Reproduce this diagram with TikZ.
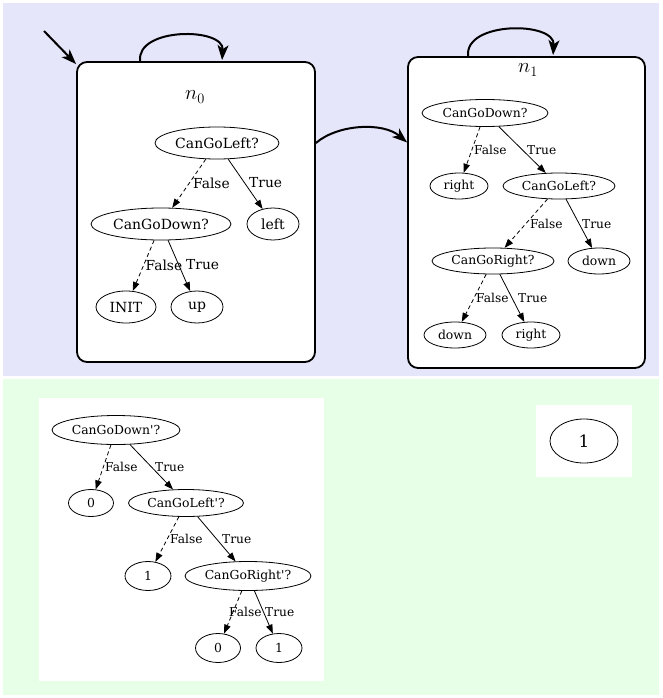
\documentclass[tikz,border=0pt]{standalone}
\usepackage{fontspec}
\setmainfont{DejaVu Serif}[Ligatures=TeXOff]
\usetikzlibrary{arrows.meta,shapes.geometric,calc}
\definecolor{topbg}{RGB}{230,230,250}
\definecolor{botbg}{RGB}{230,255,230}
\tikzset{
  dn/.style={ellipse,draw,line width=0.8pt,inner sep=0pt,fill=white},
  fA/.style={font=\fontsize{14}{16}\selectfont},
  fB/.style={font=\fontsize{12.4}{14}\selectfont},
  lblA/.style={anchor=west,inner sep=0pt,font=\fontsize{13.8}{15}\selectfont},
  lblB/.style={anchor=west,inner sep=0pt,font=\fontsize{12.2}{14}\selectfont},
  te/.style={line width=0.8pt,-{Triangle[length=9pt,width=6.5pt]}},
  fe/.style={te,dashed,dash pattern=on 4pt off 3pt},
  statebox/.style={rectangle,draw,line width=1.8pt,rounded corners=10pt,fill=white,inner sep=0pt},
  se/.style={line width=2pt,-{Stealth[length=15pt,width=11pt,inset=4pt]}},
}
\begin{document}
\begin{tikzpicture}[x=1pt,y=-1pt]
\useasboundingbox (0,0) rectangle (662,698);
\fill[white] (0,0) rectangle (662,698);
\fill[topbg] (3,3) rectangle (659,376);
\fill[botbg] (3,379) rectangle (659,695);

% state boxes
\node[statebox,minimum width=238pt,minimum height=300pt] (n0box) at (196,212) {};
\node[statebox,minimum width=237pt,minimum height=311pt] (n1box) at (526.5,212.5) {};
\node[inner sep=0pt,font=\fontsize{21}{24}\selectfont] (n0lab) at (195,97) {$n_0$};
\node[inner sep=0pt,font=\fontsize{21}{24}\selectfont] (n1lab) at (528,70) {$n_1$};

% state edges
\coordinate (init) at (44,31);
\draw[se] (init) -- ($(n0box.north west)+(0,3)$);
\draw[se] ($(n0box.north west)+(64,0)$) .. controls ($(n0box.north west)+(60,-34)$) and ($(n0box.north west)+(148,-34)$) .. ($(n0box.north west)+(146,-1)$);
\draw[se] ($(n1box.north west)+(61,0)$) .. controls ($(n1box.north west)+(57,-35)$) and ($(n1box.north west)+(148,-35)$) .. ($(n1box.north west)+(146,-1)$);
\draw[se] ($(n0box.east)+(0,-69)$) .. controls (338,124) and (383,122) .. ($(n1box.west)+(0,-70)$);

% n0 tree
\node[dn,fA,minimum width=124pt,minimum height=32pt] (cl0) at (217,143) {CanGoLeft?};
\node[dn,fA,minimum width=140pt,minimum height=32pt] (cd0) at (161,224) {CanGoDown?};
\node[dn,fA,minimum width=52pt,minimum height=32pt] (left0) at (273,224) {left};
\node[dn,fA,minimum width=60pt,minimum height=32pt] (init0) at (126,307) {INIT};
\node[dn,fA,minimum width=52pt,minimum height=32pt] (up0) at (197,307) {up};
\draw[fe] (cl0) -- (cd0);
\draw[te] (cl0) -- (left0);
\draw[fe] (cd0) -- (init0);
\draw[te] (cd0) -- (up0);
\node[lblA] (l01) at (193,183) {False};
\node[lblA] (l02) at (249,183) {True};
\node[lblA] (l03) at (145.5,265) {False};
\node[lblA] (l04) at (186,265) {True};

% n1 tree
\node[dn,fB,minimum width=126pt,minimum height=27pt] (cd1) at (485,113) {CanGoDown?};
\node[dn,fB,minimum width=58pt,minimum height=26pt] (r1) at (459,186) {right};
\node[dn,fB,minimum width=112pt,minimum height=26pt] (cl1) at (559,186) {CanGoLeft?};
\node[dn,fB,minimum width=122pt,minimum height=26pt] (cr1) at (493,261) {CanGoRight?};
\node[dn,fB,minimum width=62pt,minimum height=26pt] (d1) at (599,261) {down};
\node[dn,fB,minimum width=62pt,minimum height=26pt] (d2) at (455,335) {down};
\node[dn,fB,minimum width=58pt,minimum height=26pt] (r2) at (531,335) {right};
\draw[fe] (cd1) -- (r1);
\draw[te] (cd1) -- (cl1);
\draw[fe] (cl1) -- (cr1);
\draw[te] (cl1) -- (d1);
\draw[fe] (cr1) -- (d2);
\draw[te] (cr1) -- (r2);
\node[lblB] (l11) at (474,150) {False};
\node[lblB] (l12) at (527,150) {True};
\node[lblB] (l13) at (530,224) {False};
\node[lblB] (l14) at (582,224) {True};
\node[lblB] (l15) at (476,298) {False};
\node[lblB] (l16) at (518,298) {True};

% bottom panels
\fill[white] (39,398) rectangle (324,681);
\fill[white] (536,405) rectangle (632,477);

\node[dn,fB,minimum width=128pt,minimum height=29pt] (bcd) at (116,430) {CanGoDown'?};
\node[dn,fB,minimum width=45pt,minimum height=27pt] (b0a) at (91,503) {0};
\node[dn,fB,minimum width=115pt,minimum height=27pt] (bcl) at (186,503) {CanGoLeft'?};
\node[dn,fB,minimum width=46pt,minimum height=29pt] (b1a) at (148,576) {1};
\node[dn,fB,minimum width=126pt,minimum height=29pt] (bcr) at (248,576) {CanGoRight'?};
\node[dn,fB,minimum width=45pt,minimum height=29pt] (b0b) at (218,648) {0};
\node[dn,fB,minimum width=46pt,minimum height=29pt] (b1b) at (279,648) {1};
\draw[fe] (bcd) -- (b0a);
\draw[te] (bcd) -- (bcl);
\draw[fe] (bcl) -- (b1a);
\draw[te] (bcl) -- (bcr);
\draw[fe] (bcr) -- (b0b);
\draw[te] (bcr) -- (b1b);
\node[lblB] (l21) at (105,467) {False};
\node[lblB] (l22) at (155,467) {True};
\node[lblB] (l23) at (170,539) {False};
\node[lblB] (l24) at (222,539) {True};
\node[lblB] (l25) at (229,612) {False};
\node[lblB] (l26) at (265,612) {True};

\node[dn,font=\fontsize{17}{20}\selectfont,minimum width=68pt,minimum height=44pt] (one) at (584,441) {1};
\end{tikzpicture}
\end{document}
